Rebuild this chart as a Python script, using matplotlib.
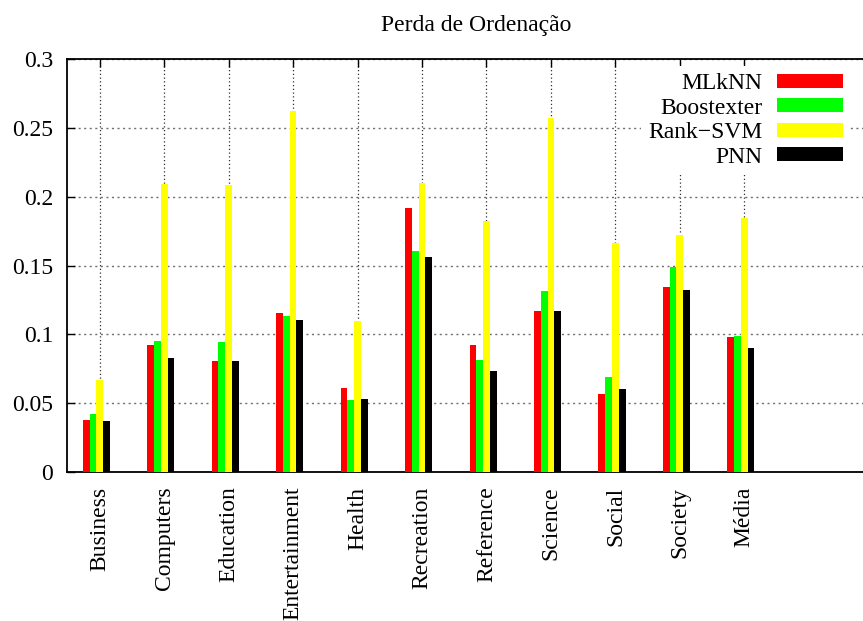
import matplotlib
matplotlib.use("Agg")
import matplotlib.pyplot as plt
import numpy as np

categories = ["Business", "Computers", "Education", "Entertainment", "Health",
              "Recreation", "Reference", "Science", "Social", "Society", "Média"]
series_names = ["MLkNN", "Boostexter", "Rank\u2212SVM", "PNN"]
mlknn = [0.0376, 0.0923, 0.0805, 0.1153, 0.0608, 0.1917, 0.0921, 0.1168, 0.0565, 0.1342, 0.0979]
boostexter = [0.0419, 0.0950, 0.0943, 0.1134, 0.0523, 0.1604, 0.0812, 0.1313, 0.0688, 0.1488, 0.0986]
ranksvm = [0.0666, 0.2091, 0.2084, 0.2622, 0.1095, 0.2099, 0.1820, 0.2571, 0.1662, 0.1718, 0.1844]
pnn = [0.0368, 0.0826, 0.0805, 0.1103, 0.0528, 0.1561, 0.0732, 0.1168, 0.0601, 0.1321, 0.0899]
yticks = [0, 0.05, 0.1, 0.15, 0.2, 0.25, 0.3]
ytick_labels = ["0", "0.05", "0.1", "0.15", "0.2", "0.25", "0.3"]
title = "Perda de Ordenação"

colors = ["#ff0000", "#00ff00", "#ffff00", "#000000"]
plt.rcParams['font.family'] = ['Liberation Serif', 'DejaVu Serif']
FS = 17

W, H = 863, 621
fig = plt.figure(figsize=(W / 100, H / 100), dpi=100)
left_px, right_px = 66.5, 66.5 + 12.515 * 64.46
top_px, bot_px = 59, 472
ax = fig.add_axes([left_px / W, 1 - bot_px / H, (right_px - left_px) / W, (bot_px - top_px) / H])

x = np.arange(len(categories))
w = 0.105
offsets = [-2 * w, -1 * w, 0, 1 * w]
handles = []
for vals, c, off, name in zip([mlknn, boostexter, ranksvm, pnn], colors, offsets, series_names):
    b = ax.bar(x + off, vals, width=w, color=c, label=name, zorder=3, linewidth=0)
    handles.append(b)

ax.set_xlim(-0.515, 12)
ax.set_ylim(0, 0.3)
ax.set_yticks(yticks)
ax.set_yticklabels(ytick_labels, fontsize=FS)
ax.set_xticks(x)
ax.set_xticklabels(categories, rotation=90, fontsize=FS, ha='center', va='top')
ax.tick_params(axis='both', direction='in', length=6, width=1, top=True, right=True)
ax.tick_params(axis='y', pad=9.5)
ax.tick_params(axis='x', pad=10.5)
ax.grid(axis='y', color='#707070', linestyle=(0, (1.5, 2.5)), linewidth=1, zorder=0)
ax.grid(axis='x', color='#303030', linestyle=(0, (1, 2)), linewidth=0.9, zorder=0)
for s in ax.spines.values():
    s.set_linewidth(1.3)

leg = ax.legend(handles=handles, labels=series_names, loc='upper right',
                bbox_to_anchor=(850 / W, 1 - 66 / H), bbox_transform=fig.transFigure,
                markerfirst=False, frameon=True, fontsize=FS, handlelength=2.8,
                handleheight=0.55, labelspacing=0.15, handletextpad=0.6,
                borderpad=0.3, borderaxespad=0)
leg.get_frame().set_edgecolor('none')
leg.get_frame().set_facecolor('white')
leg.get_frame().set_alpha(1)
leg.set_zorder(5)
for t in leg.get_texts():
    t.set_ha('right')

fig.text(476 / W, 1 - 25 / H, title, fontsize=FS, ha='center', va='center')

fig.savefig("out.png", dpi=100)
